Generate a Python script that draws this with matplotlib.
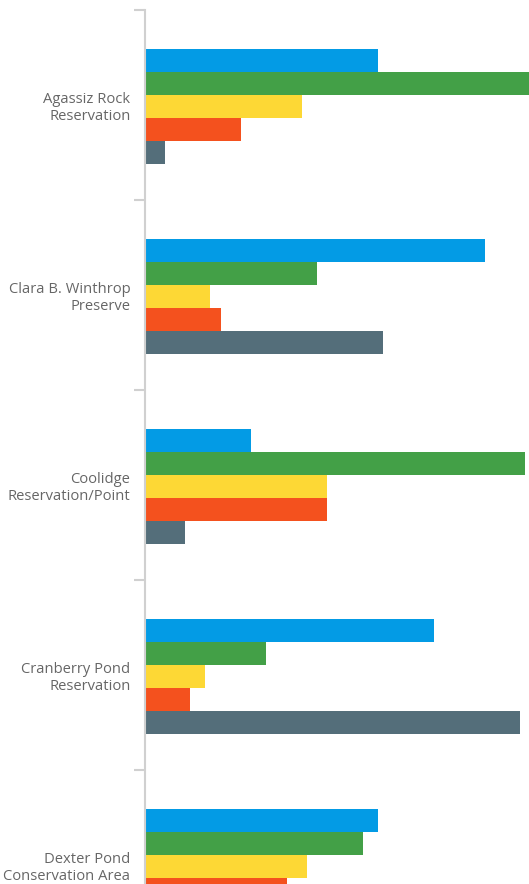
import matplotlib.pyplot as plt
import numpy as np

# categories and series (in pixel-ish units)
parks = ["Agassiz Rock\nReservation", "Clara B. Winthrop\nPreserve", "Coolidge\nReservation/Point",
         "Cranberry Pond\nReservation", "Dexter Pond\nConservation Area"]
blue = [233, 340, 106, 289, 233]
green = [400, 172, 380, 121, 218]
yellow = [157, 65, 182, 60, 162]
orange = [96, 76, 182, 45, 142]
gray = [20, 238, 40, 375, 150]

series = [blue, green, yellow, orange, gray]
colors = ["#039BE5", "#43A047", "#FDD835", "#F4511E", "#546E7A"]

W, H = 529, 884
fig = plt.figure(figsize=(W / 100, H / 100), dpi=100)
# axes runs past the bottom of the figure, like the clipped original
ax = fig.add_axes([145 / W, 1 - 960 / H, 384 / W, 950 / H])

y = np.arange(len(parks))
bh = 23 / 190
for i, vals in enumerate(series):
    ax.barh(y + (i - 2) * bh + 0.006, vals, height=bh, color=colors[i], linewidth=0)

ax.set_xlim(0, 384)
ax.set_ylim(len(parks) - 0.5, -0.5)

for s in ["top", "right", "bottom"]:
    ax.spines[s].set_visible(False)
ax.spines["left"].set_color("#d0d0d0")
ax.spines["left"].set_linewidth(1.5)

ax.set_xticks([])
ax.set_yticks(y)
ax.set_yticklabels(parks, fontsize=10.6, color="#666666", family=["Open Sans", "DejaVu Sans"],
                   linespacing=1.2)
ax.tick_params(axis="y", which="major", length=0, pad=10.5)
ax.set_yticks(np.arange(-0.5, len(parks), 1), minor=True)
ax.tick_params(axis="y", which="minor", length=8, width=1.5, color="#d0d0d0")

fig.savefig("out.png", dpi=100)
